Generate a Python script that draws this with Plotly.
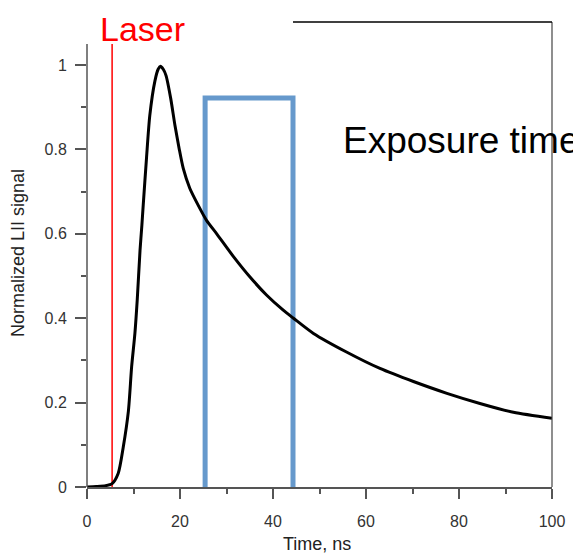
import plotly.graph_objects as go

# ---- data ----
time_ns = [0, 2, 4, 5.4, 6.7, 7.8, 8.9, 9.6, 10.3, 10.8, 11.4, 11.8, 12.1, 12.8,
           13.5, 14.6, 15.3, 15.8, 16.4, 17.0, 18.0, 18.9, 19.8, 20.7, 22.1, 23.9,
           25.7, 27.9, 31.5, 35.1, 38.6, 42.2, 44.4, 48.7, 55.8, 63.0, 70.2, 77.4,
           84.5, 91.7, 100]
lii_signal = [0, 0.001, 0.003, 0.008, 0.032, 0.095, 0.18, 0.285, 0.364, 0.443,
              0.56, 0.62, 0.67, 0.78, 0.88, 0.962, 0.99, 0.997, 0.99, 0.975,
              0.921, 0.858, 0.803, 0.755, 0.708, 0.668, 0.632, 0.600, 0.546,
              0.497, 0.455, 0.419, 0.400, 0.364, 0.32, 0.281, 0.25, 0.222,
              0.198, 0.177, 0.163]

laser_time = 5.4
exposure_start = 25.4
exposure_end = 44.3
exposure_level = 0.922

x_ticks = [0, 20, 40, 60, 80, 100]
x_minor = [10, 30, 50, 70, 90]
y_ticks = [0, 0.2, 0.4, 0.6, 0.8, 1.0]
y_tick_labels = ["0", "0.2", "0.4", "0.6", "0.8", "1"]
y_minor = [0.1, 0.3, 0.5, 0.7, 0.9]

X_RANGE = [0, 100]
Y_RANGE = [0, 1.102]
Y_AXIS_TOP = 1.05

FONT = "Liberation Sans, Arial, sans-serif"

fig = go.Figure()

# exposure-time bracket
fig.add_trace(go.Scatter(
    x=[exposure_start, exposure_start, exposure_end, exposure_end],
    y=[0, exposure_level, exposure_level, 0],
    mode="lines", line=dict(color="#6699cc", width=5),
    showlegend=False, hoverinfo="skip"))

# laser line
fig.add_trace(go.Scatter(
    x=[laser_time, laser_time], y=[0, Y_AXIS_TOP],
    mode="lines", line=dict(color="#ff0000", width=1.5),
    showlegend=False, hoverinfo="skip"))

# LII signal
fig.add_trace(go.Scatter(
    x=time_ns, y=lii_signal, mode="lines",
    line=dict(color="black", width=3, shape="spline", smoothing=0.7),
    showlegend=False))

def px(xv):
    return (xv - X_RANGE[0]) / (X_RANGE[1] - X_RANGE[0])

def py(yv):
    return (yv - Y_RANGE[0]) / (Y_RANGE[1] - Y_RANGE[0])

# left axis spine (partial), right border, partial top border
fig.add_shape(type="line", xref="paper", yref="paper", x0=0, x1=0, y0=0, y1=py(Y_AXIS_TOP),
              line=dict(color="#555555", width=1.5))
fig.add_shape(type="line", xref="paper", yref="paper", x0=1, x1=1, y0=0, y1=1,
              line=dict(color="#444444", width=1.2))
fig.add_shape(type="line", xref="paper", yref="paper", x0=px(exposure_end), x1=1, y0=1, y1=1,
              line=dict(color="black", width=1.5))

fig.add_annotation(text="Laser", xref="paper", yref="paper",
                   x=px(laser_time) - 0.031, y=(487 - 29) / 465, xanchor="left", yanchor="middle",
                   showarrow=False, font=dict(family=FONT, size=34, color="#ff0000"))
fig.add_annotation(text="Exposure time", xref="paper", yref="paper",
                   x=(341 - 87) / 465, y=(487 - 141) / 465, xanchor="left", yanchor="middle",
                   showarrow=False, font=dict(family=FONT, size=37, color="black"))
fig.add_annotation(text="Time, ns", xref="paper", yref="paper",
                   x=0.495, y=(487 - 544) / 465, xanchor="center", yanchor="middle",
                   showarrow=False, font=dict(family=FONT, size=18, color="#222222"))
fig.add_annotation(text="Normalized LII signal", xref="paper", yref="paper", textangle=-90,
                   x=(18 - 87) / 465, y=(487 - 253) / 465, xanchor="center", yanchor="middle",
                   showarrow=False, font=dict(family=FONT, size=18, color="#222222"))

fig.update_xaxes(range=X_RANGE, tickvals=x_ticks, ticks="outside", ticklen=10, tickwidth=1.5,
                 tickcolor="#555555", showline=True, linecolor="#555555", linewidth=1.5,
                 showgrid=False, zeroline=False, ticklabelstandoff=9,
                 minor=dict(tickvals=x_minor, ticks="outside", ticklen=5, tickwidth=1.5,
                            tickcolor="#555555", showgrid=False),
                 tickfont=dict(family=FONT, size=16, color="#333333"))
fig.update_yaxes(range=Y_RANGE, tickvals=y_ticks, ticktext=y_tick_labels, ticks="outside",
                 ticklen=11, tickwidth=1.5, tickcolor="#555555", showline=False,
                 showgrid=False, zeroline=False, ticklabelstandoff=5,
                 minor=dict(tickvals=y_minor, ticks="outside", ticklen=5, tickwidth=1.5,
                            tickcolor="#555555", showgrid=False),
                 tickfont=dict(family=FONT, size=16, color="#333333"))

# the page adds an 8px body margin, so the margins are offset to land the plot area
# at the reference's pixel position
fig.update_layout(width=581, height=553, autosize=False,
                  margin=dict(l=79, r=37, t=14, b=74),
                  plot_bgcolor="white", paper_bgcolor="white")

fig.write_html("out.html")
